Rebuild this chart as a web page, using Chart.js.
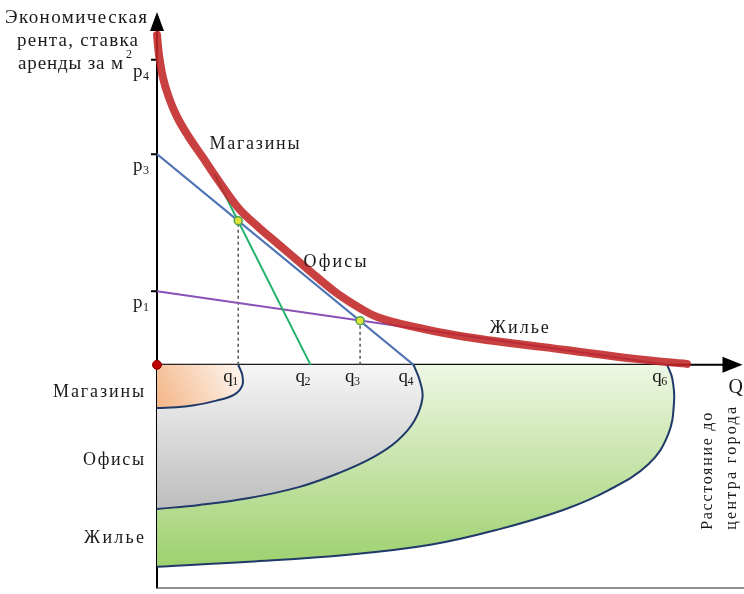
<!DOCTYPE html>
<html lang="ru">
<head>
<meta charset="utf-8">
<title>Рента</title>
<script src="https://cdn.jsdelivr.net/npm/chart.js@4.4.1/dist/chart.umd.min.js"></script>
<style>
  html, body { margin: 0; padding: 0; background: #fff; overflow: hidden; }
  #divChart { width: 744px; height: 594px; }
</style>
</head>
<body>
<div id="divChart"><canvas id="cvRent" width="744" height="594"></canvas></div>
<script>
var zoneNames = ['Магазины', 'Офисы', 'Жилье']
var pValues = [6.14, 4.24, 1.48]
var pIndexes = ['4', '3', '1']
var qValues = [1.64, 3.1, 4.1, 5.18, 10.3]
var qIndexes = ['1', '2', '3', '4', '6']

// red envelope
var rentX = [0, 0.04, 0.12, 0.24, 0.4, 0.62, 0.92, 1.26, 1.64, 2.06, 2.46, 2.86, 3.26, 3.66, 4.1, 4.46, 5.12, 6.12, 7.12, 8.26, 9.66, 10.7]
var rentY = [6.64, 6.24, 5.78, 5.38, 5.0, 4.62, 4.18, 3.68, 3.16, 2.76, 2.42, 2.08, 1.74, 1.42, 1.14, 0.96, 0.78, 0.58, 0.44, 0.3, 0.12, 0.02]

// bid-rent lines
var shopsBidX = [1.16, 3.1]
var shopsBidY = [3.84, 0]
var officeBidX = [0, 5.18]
var officeBidY = [4.24, 0]
var homeBidX = [0, 10.3]
var homeBidY = [1.48, 0]

var crossX = [1.64, 4.1]
var crossY = [2.9, 0.89]

// zones under the axis
var shopsZoneX = [1.64, 1.72, 1.72, 1.56, 1.2, 0.72, 0.26, 0]
var shopsZoneY = [0, -0.2, -0.42, -0.6, -0.72, -0.82, -0.86, -0.87]
var officeZoneX = [5.18, 5.3, 5.36, 5.2, 4.86, 4.36, 3.66, 2.86, 1.86, 0.86, 0]
var officeZoneY = [0, -0.3, -0.66, -1.12, -1.52, -1.86, -2.18, -2.46, -2.68, -2.82, -2.9]
var homeZoneX = [10.3, 10.4, 10.44, 10.32, 9.92, 9.12, 8.2, 6.86, 5.52, 3.86, 1.86, 0]
var homeZoneY = [0, -0.26, -0.72, -1.4, -2.0, -2.52, -2.92, -3.32, -3.62, -3.82, -3.96, -4.06]

// label anchors (data units) and widths
var curveLabelSpots = [{ x: 1.06, y: 4.34, w: 90 }, { x: 2.96, y: 1.96, w: 63 }, { x: 6.72, y: 0.64, w: 59 }]
var zoneLabelSpots = [{ y: -0.64, w: 91 }, { y: -2.02, w: 61 }, { y: -3.58, w: 60 }]

var fnPoints = (xs, ys) => xs.map((x, i) => ({ x: x, y: ys[i] }))
var fnSerif = (size) => `${size}px "Liberation Serif", "DejaVu Serif", serif`

var fnFitText = (ctx, text, x, y, width) => {
    ctx.letterSpacing = '0px'
    var natural = ctx.measureText(text).width
    var gap = text.length > 1 ? (width - natural) / (text.length - 1) : 0
    ctx.letterSpacing = `${gap}px`
    ctx.fillText(text, x, y)
    ctx.letterSpacing = '0px'
}

var fnGradient = (stops, x1, y1, x2, y2) => (c) => {
    var chart = c.chart
    if (!chart.chartArea) return stops[1]
    var xs = chart.scales.x, ys = chart.scales.y
    var g = chart.ctx.createLinearGradient(xs.getPixelForValue(x1), ys.getPixelForValue(y1), xs.getPixelForValue(x2), ys.getPixelForValue(y2))
    g.addColorStop(0, stops[0])
    g.addColorStop(1, stops[1])
    return g
}

// zone: filled between its outline and the y axis
var fnZone = (xs, ys, colour) => ({
    data: fnPoints(xs, ys),
    indexAxis: 'y',
    tension: 0.4,
    borderColor: '#1f3a68',
    borderWidth: 2,
    pointRadius: 0,
    backgroundColor: colour,
    fill: { value: 0 },
    clip: false
})
var fnStraight = (xs, ys, colour, dash) => ({
    data: fnPoints(xs, ys),
    borderColor: colour,
    borderWidth: dash ? 1.5 : 2,
    borderDash: dash || [],
    pointRadius: 0,
    fill: false,
    clip: false
})

var axesPlugin = {
    id: 'axesPlugin',
    beforeDatasetsDraw: (chart) => {
        var ctx = chart.ctx, area = chart.chartArea
        var xs = chart.scales.x, ys = chart.scales.y
        var x0 = xs.getPixelForValue(0), y0 = ys.getPixelForValue(0)
        ctx.save()
        ctx.strokeStyle = '#000'
        ctx.fillStyle = '#000'
        ctx.lineWidth = 2
        ctx.beginPath()
        ctx.moveTo(x0, area.bottom)
        ctx.lineTo(x0, area.top + 10)
        ctx.moveTo(x0, y0)
        ctx.lineTo(area.right - 10, y0)
        pValues.forEach((v) => {
            var y = ys.getPixelForValue(v)
            ctx.moveTo(x0 - 6, y)
            ctx.lineTo(x0, y)
        })
        qValues.forEach((v) => {
            var x = xs.getPixelForValue(v)
            ctx.moveTo(x, y0)
            ctx.lineTo(x, y0 + 6)
        })
        ctx.stroke()
        ctx.beginPath()
        ctx.moveTo(x0, area.top)
        ctx.lineTo(x0 - 7, area.top + 19)
        ctx.lineTo(x0 + 7, area.top + 19)
        ctx.closePath()
        ctx.moveTo(area.right + 4, y0)
        ctx.lineTo(area.right - 16, y0 - 8)
        ctx.lineTo(area.right - 16, y0 + 8)
        ctx.closePath()
        ctx.fill()
        ctx.strokeStyle = '#6b6b6b'
        ctx.lineWidth = 1.5
        ctx.beginPath()
        ctx.moveTo(x0, area.bottom - 0.5)
        ctx.lineTo(chart.width, area.bottom - 0.5)
        ctx.stroke()
        ctx.restore()
    }
}

var textPlugin = {
    id: 'textPlugin',
    afterDraw: (chart) => {
        var ctx = chart.ctx
        var xs = chart.scales.x, ys = chart.scales.y
        var x0 = xs.getPixelForValue(0), y0 = ys.getPixelForValue(0)
        ctx.save()
        ctx.fillStyle = '#1a1a1a'
        ctx.textBaseline = 'alphabetic'
        ctx.textAlign = 'left'

        // y axis title
        ctx.font = fnSerif(19)
        fnFitText(ctx, 'Экономическая', x0 - 152, 23, 142)
        fnFitText(ctx, 'рента, ставка', x0 - 140, 46, 121)
        fnFitText(ctx, 'аренды за м', x0 - 139, 69, 105)
        ctx.font = fnSerif(12)
        ctx.fillText('2', x0 - 31, 58)

        // p labels
        pValues.forEach((v, i) => {
            var y = ys.getPixelForValue(v)
            ctx.font = fnSerif(19)
            ctx.fillText('p', x0 - 24, y + 17)
            ctx.font = fnSerif(12)
            ctx.fillText(pIndexes[i], x0 - 14, y + 20)
        })
        // q labels
        qValues.forEach((v, i) => {
            var x = xs.getPixelForValue(v)
            ctx.font = fnSerif(19)
            ctx.fillText('q', x - 15, y0 + 17)
            ctx.font = fnSerif(12)
            ctx.fillText(qIndexes[i], x - 6, y0 + 20)
        })
        ctx.font = fnSerif(20)
        ctx.fillText('Q', chart.chartArea.right - 10, y0 + 28)

        // names on the curve and at the zones
        ctx.font = fnSerif(18)
        curveLabelSpots.forEach((s, i) => {
            fnFitText(ctx, zoneNames[i], xs.getPixelForValue(s.x), ys.getPixelForValue(s.y), s.w)
        })
        zoneLabelSpots.forEach((s, i) => {
            fnFitText(ctx, zoneNames[i], x0 - 13 - s.w, ys.getPixelForValue(s.y), s.w)
        })

        // x axis title, rotated
        ctx.font = fnSerif(16)
        ;[['Расстояние до', 712, 117], ['центра города', 736, 123]].forEach((t) => {
            ctx.save()
            ctx.translate(t[1], ys.getPixelForValue(-3.32))
            ctx.rotate(-Math.PI / 2)
            fnFitText(ctx, t[0], 0, 0, t[2])
            ctx.restore()
        })
        ctx.restore()
    }
}

var fnInitializeRentChart = () => {
    var ctx = document.getElementById('cvRent').getContext('2d')
    var datasets = [
        { data: [{ x: 0, y: 0 }], pointRadius: 4.5, pointBackgroundColor: '#c00000', pointBorderColor: '#8a0000', pointBorderWidth: 1, showLine: false, clip: false },
        { data: fnPoints(crossX, crossY), pointRadius: 4, pointBackgroundColor: '#e3e23a', pointBorderColor: '#4ea64e', pointBorderWidth: 1.5, showLine: false, clip: false },
        { data: fnPoints(rentX, rentY), borderColor: 'rgba(194,38,38,0.88)', borderWidth: 8, borderCapStyle: 'round', tension: 0.4, pointRadius: 0, fill: false, clip: false },
        fnStraight(officeBidX, officeBidY, '#4f74b3'),
        fnStraight(shopsBidX, shopsBidY, '#22b36b'),
        fnStraight(homeBidX, homeBidY, '#8a52b6'),
        fnStraight([crossX[0], crossX[0]], [0, crossY[0]], '#555555', [3, 3]),
        fnStraight([crossX[1], crossX[1]], [0, crossY[1]], '#555555', [3, 3]),
        fnZone(shopsZoneX, shopsZoneY, fnGradient(['#fdf5ef', '#f4b585'], 1.64, 0, 0, -0.87)),
        fnZone(officeZoneX, officeZoneY, fnGradient(['#f6f6f6', '#bdbdbd'], 0, 0, 0, -2.9)),
        fnZone(homeZoneX, homeZoneY, fnGradient(['#eef7e4', '#9ed06e'], 0, 0, 0, -4.06))
    ]
    new Chart(ctx, {
        type: 'line',
        data: { datasets: datasets },
        options: {
            responsive: false,
            animation: false,
            events: [],
            devicePixelRatio: 1,
            layout: { padding: { left: 157, right: 0, top: 12, bottom: 2 } },
            scales: {
                x: { type: 'linear', min: 0, max: 11.74, display: false },
                y: { type: 'linear', min: -4.5, max: 7.1, display: false }
            },
            plugins: { legend: { display: false }, tooltip: { enabled: false } }
        },
        plugins: [axesPlugin, textPlugin]
    })
}

fnInitializeRentChart()
</script>
</body>
</html>
